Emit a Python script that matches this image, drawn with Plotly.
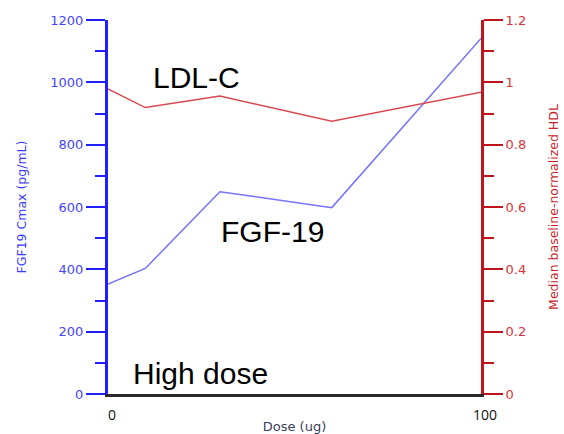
import plotly.graph_objects as go

doses = [0, 10, 30, 60, 100]
fgf19 = [353, 403, 649, 598, 1141]
ldl = [0.979, 0.919, 0.956, 0.875, 0.968]

left_ticks = [0, 200, 400, 600, 800, 1000, 1200]
right_ticks = [0, 0.2, 0.4, 0.6, 0.8, 1, 1.2]
right_labels = ["0", "0.2", "0.4", "0.6", "0.8", "1", "1.2"]

BLUE = "#1f1fff"
RED = "#c0141c"
tickfont = "DejaVu Sans"
bigfont = "Liberation Sans"

fig = go.Figure()
fig.add_trace(go.Scatter(x=doses, y=fgf19, mode="lines",
                         line=dict(color="#7373ff", width=1.5), yaxis="y", cliponaxis=False))
fig.add_trace(go.Scatter(x=doses, y=ldl, mode="lines",
                         line=dict(color="#d9494f", width=1.5), yaxis="y2", cliponaxis=False))

fig.update_layout(
    width=564, height=434,
    margin=dict(l=108, r=83, t=20, b=40),
    paper_bgcolor="white", plot_bgcolor="white",
    showlegend=False,
    xaxis=dict(range=[0, 100], tickvals=[0, 100], ticktext=["0", "100"], automargin=False,
               showgrid=False, zeroline=False, showline=True, linecolor="#2a2a2a",
               linewidth=3, ticks="", ticklabelstandoff=6, ticklabelshift=4,
               tickfont=dict(family="Open Sans", size=14, color="#111"),
               title=dict(text="Dose (ug)", font=dict(family=tickfont, size=13, color="#3a3f5c"), standoff=4)),
    yaxis=dict(range=[0, 1200], tickvals=left_ticks, showgrid=False, zeroline=False, automargin=False,
               showline=True, linecolor=BLUE, linewidth=3, ticks="outside", ticklen=19,
               tickwidth=2, tickcolor=BLUE,
               minor=dict(dtick=100, ticks="outside", ticklen=10, tickwidth=2, tickcolor=BLUE),
               tickfont=dict(family=tickfont, size=13, color="#4545ff"),
               title=dict(text="FGF19 Cmax (pg/mL)", font=dict(family=tickfont, size=12.5, color="#3a3aff"), standoff=21)),
    yaxis2=dict(range=[0, 1.2], tickvals=right_ticks, ticktext=right_labels, overlaying="y", side="right",
                showgrid=False, zeroline=False, showline=True, linecolor=RED, linewidth=3, automargin=False,
                ticks="outside", ticklen=19, tickwidth=2, tickcolor=RED,
                minor=dict(dtick=0.1, ticks="outside", ticklen=10, tickwidth=2, tickcolor=RED),
                tickfont=dict(family=tickfont, size=13, color="#d8343c"),
                title=dict(text="Median baseline-normalized HDL", font=dict(family=tickfont, size=12.5, color="#c81e28"), standoff=24)),
    annotations=[
        dict(x=11.5, y=1014, yref="y", xref="x", text="LDL-C", showarrow=False, xanchor="left",
             yanchor="middle", font=dict(family=bigfont, size=30, color="black")),
        dict(x=29.7, y=523, yref="y", xref="x", text="FGF-19", showarrow=False, xanchor="left",
             yanchor="middle", font=dict(family=bigfont, size=30, color="black")),
        dict(x=6.1, y=67, yref="y", xref="x", text="High dose", showarrow=False, xanchor="left",
             yanchor="middle", font=dict(family=bigfont, size=30, color="black")),
    ],
)

fig.write_html("out.html")
